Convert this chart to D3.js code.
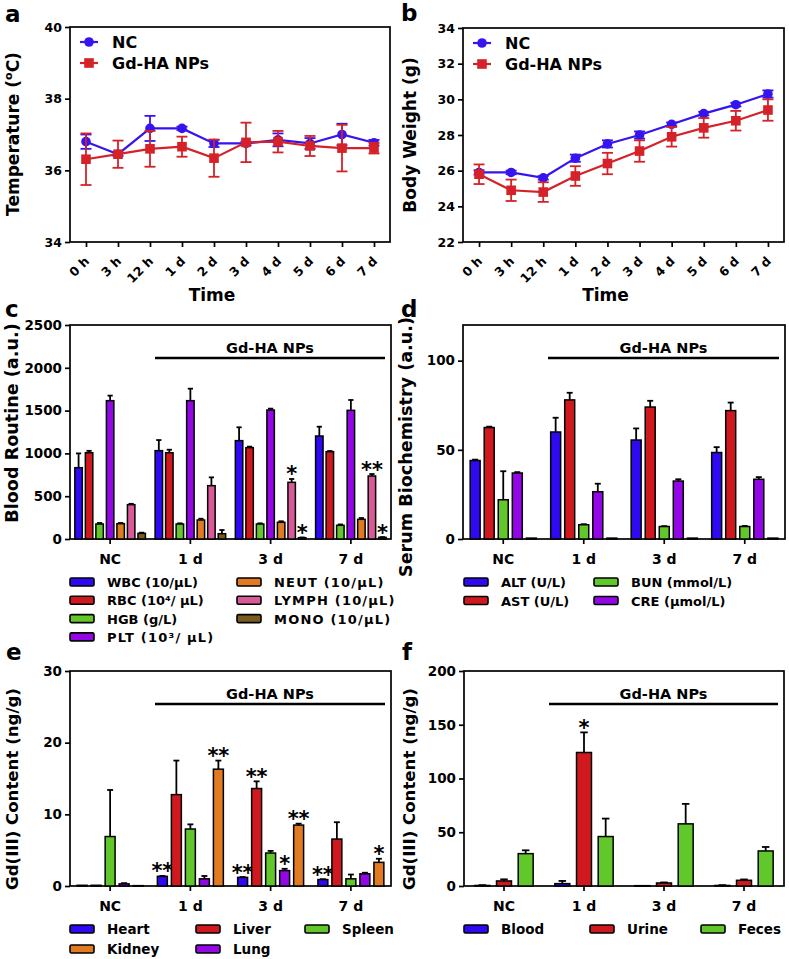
<!DOCTYPE html>
<html><head><meta charset="utf-8">
<script src="https://cdn.jsdelivr.net/npm/d3@7"></script>
<style>body{margin:0;background:#fff}svg{display:block}text{font-family:"DejaVu Sans",sans-serif;font-weight:bold}</style>
</head><body>
<svg id="c" width="789" height="959"></svg>
<script>
// ---------- DATA ----------
const timeLabels = ["0 h","3 h","12 h","1 d","2 d","3 d","4 d","5 d","6 d","7 d"];
const tempNC     = [36.80,36.45,37.17,37.17,36.75,36.75,36.85,36.75,37.00,36.77];
const tempNCErr  = [0.20,0.05,0.35,0.05,0.10,0.05,0.18,0.15,0.30,0.08];
const tempGd     = [36.31,36.45,36.60,36.66,36.34,36.78,36.80,36.68,36.62,36.62];
const tempGdErr  = [0.72,0.38,0.50,0.28,0.52,0.55,0.30,0.28,0.65,0.15];
const weightNC    = [25.9,25.9,25.6,26.7,27.5,28.0,28.6,29.2,29.7,30.3];
const weightNCErr = [0.12,0.10,0.10,0.20,0.20,0.20,0.10,0.10,0.10,0.20];
const weightGd    = [25.8,24.9,24.8,25.7,26.4,27.1,27.9,28.4,28.8,29.4];
const weightGdErr = [0.55,0.60,0.55,0.55,0.60,0.60,0.55,0.55,0.55,0.60];

const groups = ["NC","1 d","3 d","7 d"];

const bloodNames  = ["WBC","RBC","HGB","PLT","NEUT","LYMPH","MONO"];
const bloodLabels = ["WBC (10/μL)","RBC (10⁴/ μL)","HGB (g/L)","PLT (10³/ μL)","NEUT (10/μL)","LYMPH (10/μL)","MONO (10/μL)"];
const WBC   = [833,1032,1149,1203],  WBCErr   = [167,124,156,109];
const RBC   = [1008,1008,1067,1020], RBCErr   = [22,35,12,8];
const HGB   = [175,175,175,160],     HGBErr   = [12,8,8,10];
const PLT   = [1616,1616,1507,1503], PLTErr   = [59,140,16,121];
const NEUT  = [179,222,195,230],     NEUTErr  = [8,15,12,15];
const LYMPH = [401,623,662,736],     LYMPHErr = [10,97,39,23];
const MONO  = [66,62,15,19],         MONOErr  = [8,43,3,3];
const bloodStars = {LYMPH:["","","*","**"], MONO:["","","*","*"]};

const serumNames  = ["ALT","AST","BUN","CRE","other"];
const serumLabels = ["ALT (U/L)","AST (U/L)","BUN (mmol/L)","CRE (μmol/L)"];
const ALT = [44,60,55.5,48.5],   ALTErr = [0.5,8,6.5,3];
const AST = [62.5,78,74,72],     ASTErr = [0.5,4,3.5,4.5];
const BUN = [22,8,7,7],          BUNErr = [16,0.3,0.2,0.3];
const CRE = [37,26.5,32.5,33.5], CREErr = [0.5,4.5,1,1.2];
const OTH = [0.5,0.5,0.5,0.5],   OTHErr = [0,0,0,0];

const organNames = ["Heart","Liver","Spleen","Lung","Kidney"];
const Heart  = [0.1,1.35,1.2,0.9],    HeartErr  = [0,0.05,0.05,0.05];
const Liver  = [0.1,12.75,13.6,6.55], LiverErr  = [0,4.75,1.0,2.35];
const Spleen = [6.9,7.95,4.6,1.0],    SpleenErr = [6.5,0.65,0.3,0.6];
const Lung   = [0.3,1.0,2.15,1.7],    LungErr   = [0.1,0.4,0.25,0.15];
const Kidney = [0.05,16.3,8.5,3.3],   KidneyErr = [0,1.2,0.2,0.5];
const organStars = {Heart:["","**","**","**"], Liver:["","","**",""], Lung:["","","*",""], Kidney:["","**","**","*"]};

const excNames = ["Blood","Urine","Feces"];
const Blood = [0.5,2.2,0.3,0.5],      BloodErr = [0.3,2.5,0,0.3];
const Urine = [4.7,124.2,2.8,5.3],    UrineErr = [1.5,18.7,0.5,0.8];
const Feces = [30.1,46,57.8,32.6],    FecesErr = [3.1,16.7,18.6,3.7];
const excStars = {Urine:["","*","",""]};

// ---------- STYLE ----------
const col = {blue:"#2d0af2", red:"#d0191e", green:"#62c72a", purple:"#9306e6",
             orange:"#e07b22", pink:"#d95a98", brown:"#7b5a1f", dark:"#3a2a10"};
const lineBlue = "#3614f0", lineRed = "#d42228";

const svg = d3.select("#c");
svg.append("rect").attr("width",789).attr("height",959).attr("fill","#fff");

function frame(p){
  svg.append("rect").attr("x",p.x0).attr("y",p.y0).attr("width",p.x1-p.x0).attr("height",p.y1-p.y0)
    .attr("fill","none").attr("stroke","#000").attr("stroke-width",1.7);
}
function yAxis(p, y, ticks, fs){
  const g = svg.append("g").attr("transform",`translate(${p.x0},0)`)
    .call(d3.axisLeft(y).tickValues(ticks).tickSize(5).tickSizeOuter(0).tickPadding(3).tickFormat(d=>String(d)));
  g.select(".domain").remove();
  g.selectAll("line").attr("stroke-width",1.7);
  g.selectAll("text").attr("font-size",fs).attr("font-family","DejaVu Sans").attr("font-weight","bold");
}
function yTitle(x, cy, txt, fs){
  return svg.append("text").attr("transform",`translate(${x},${cy}) rotate(-90)`)
    .attr("text-anchor","middle").attr("font-size",fs).text(txt);
}
function letter(x,y,t){ svg.append("text").attr("x",x).attr("y",y).attr("font-size",23).text(t); }

// ---------- LINE PANELS ----------
function linePanel(p, dom, ticks, seriesList, title, titleX, titleCY, let, letX, letY){
  frame(p);
  const x = d3.scalePoint().domain(timeLabels).range([p.x0,p.x1]).padding(0.5);
  const y = d3.scaleLinear().domain(dom).range([p.y1,p.y0]);
  yAxis(p,y,ticks,12.5);
  const xa = svg.append("g").attr("transform",`translate(0,${p.y1})`)
    .call(d3.axisBottom(x).tickSize(5).tickSizeOuter(0).tickFormat(""));
  xa.select(".domain").remove(); xa.selectAll("line").attr("stroke-width",1.7);
  svg.selectAll(null).data(timeLabels).join("text")
    .attr("transform",d=>`translate(${x(d)+4},${p.y1+20}) rotate(-45)`)
    .attr("text-anchor","end").attr("font-size",12.5).text(d=>d);
  svg.append("text").attr("x",(p.x0+p.x1)/2-18).attr("y",p.y1+59).attr("text-anchor","middle").attr("font-size",17).text("Time");
  yTitle(titleX,titleCY,"",17).call(t=>{ title(t); });
  letter(letX,letY,let);
  seriesList.forEach(s=>{
    const pts = timeLabels.map((l,i)=>({l,v:s.v[i],e:s.e[i]}));
    const eb = svg.append("g").attr("stroke",s.c).attr("stroke-width",1.8);
    pts.forEach(d=>{
      const cx=x(d.l), t=y(d.v+d.e), b=y(d.v-d.e);
      eb.append("line").attr("x1",cx).attr("x2",cx).attr("y1",t).attr("y2",b);
      eb.append("line").attr("x1",cx-5.5).attr("x2",cx+5.5).attr("y1",t).attr("y2",t);
      eb.append("line").attr("x1",cx-5.5).attr("x2",cx+5.5).attr("y1",b).attr("y2",b);
    });
    svg.append("path").datum(pts).attr("fill","none").attr("stroke",s.c).attr("stroke-width",2.2)
      .attr("d",d3.line().x(d=>x(d.l)).y(d=>y(d.v)));
    pts.forEach(d=>marker(x(d.l),y(d.v),s));
  });
  // legend
  seriesList.forEach((s,i)=>{
    const ly = p.y0+15+i*21, lx = p.x0+10;
    svg.append("line").attr("x1",lx).attr("x2",lx+18).attr("y1",ly).attr("y2",ly).attr("stroke",s.c).attr("stroke-width",2.2);
    marker(lx+9,ly,s);
    svg.append("text").attr("x",lx+32).attr("y",ly+6).attr("font-size",16).text(s.name);
  });
}
function marker(cx,cy,s){
  if(s.shape==="circle") svg.append("circle").attr("cx",cx).attr("cy",cy).attr("r",4.8).attr("fill",s.c);
  else svg.append("rect").attr("x",cx-4.8).attr("y",cy-4.8).attr("width",9.6).attr("height",9.6).attr("fill",s.c);
}

linePanel({x0:70,x1:390,y0:27,y1:242},[34,40],[34,36,38,40],
  [{name:"NC",v:tempNC,e:tempNCErr,c:lineBlue,shape:"circle"},{name:"Gd-HA NPs",v:tempGd,e:tempGdErr,c:lineRed,shape:"square"}],
  t=>{ t.append("tspan").text("Temperature (");
       t.append("tspan").attr("font-size",11).attr("dy",-7).text("o");
       t.append("tspan").attr("dy",7).text("C)"); }, 19, 134, "a", 5, 22);
linePanel({x0:463,x1:784,y0:28,y1:242},[22,34],[22,24,26,28,30,32,34],
  [{name:"NC",v:weightNC,e:weightNCErr,c:lineBlue,shape:"circle"},{name:"Gd-HA NPs",v:weightGd,e:weightGdErr,c:lineRed,shape:"square"}],
  t=>{ t.text("Body Weight (g)"); }, 416, 135, "b", 401, 21);

// ---------- BAR PANELS ----------
function barPanel(p, dom, ticks, series, title, titleX, titleCY, titleFs, let, letX, letY, pin, pout, capFrac){
  frame(p);
  const y = d3.scaleLinear().domain(dom).range([p.y1,p.y0]);
  const x = d3.scaleBand().domain(groups).range([p.x0,p.x1]).padding(0);
  const xi = d3.scaleBand().domain(series.map(s=>s.name)).range([0,x.bandwidth()]).paddingInner(pin).paddingOuter(pout);
  yAxis(p,y,ticks,13.5);
  const xa = svg.append("g").attr("transform",`translate(0,${p.y1})`)
    .call(d3.axisBottom(x).tickSize(5).tickSizeOuter(0).tickPadding(10));
  xa.select(".domain").remove(); xa.selectAll("line").attr("stroke-width",1.7);
  xa.selectAll("text").attr("font-size",14).attr("font-family","DejaVu Sans").attr("font-weight","bold").attr("fill","#000");
  yTitle(titleX,titleCY,title,titleFs);
  letter(letX,letY,let);
  // Gd-HA NPs bracket
  svg.append("line").attr("x1",p.x0+85).attr("x2",p.x1-6).attr("y1",p.y0+33).attr("y2",p.y0+33).attr("stroke","#000").attr("stroke-width",2.4);
  svg.append("text").attr("x",(p.x0+85+p.x1-6)/2).attr("y",p.y0+28).attr("text-anchor","middle").attr("font-size",14.5).text("Gd-HA NPs");
  const bw = xi.bandwidth();
  series.forEach(s=>{
    groups.forEach((gname,i)=>{
      const bx = x(gname)+xi(s.name), v=s.v[i], e=s.e[i];
      const cx = bx+bw/2;
      if(e>0){
        svg.append("line").attr("x1",cx).attr("x2",cx).attr("y1",y(v)).attr("y2",y(v+e)).attr("stroke","#000").attr("stroke-width",1.8);
        svg.append("line").attr("x1",cx-bw*capFrac).attr("x2",cx+bw*capFrac).attr("y1",y(v+e)).attr("y2",y(v+e)).attr("stroke","#000").attr("stroke-width",1.8);
      }
      svg.append("rect").attr("x",bx).attr("y",y(v)).attr("width",bw).attr("height",Math.max(p.y1-y(v),0.5))
        .attr("fill",s.c).attr("stroke","#000").attr("stroke-width",1.5);
      if(s.stars && s.stars[i]){
        svg.append("text").attr("x",cx).attr("y",y(v+e)+2.5).attr("text-anchor","middle")
          .attr("font-size",21).attr("font-weight","normal").text(s.stars[i]);
      }
    });
  });
}
function legend(items, x0, y0, colW, rowH, ncols, fs, swW){
  items.forEach((it,i)=>{
    const c = i % ncols, r = Math.floor(i/ncols);
    const lx = x0 + (Array.isArray(colW)? colW[c] : c*colW), ly = y0 + r*rowH;
    svg.append("rect").attr("x",lx).attr("y",ly-4).attr("width",swW).attr("height",8).attr("rx",1.5)
      .attr("fill",it.c).attr("stroke","#000").attr("stroke-width",1.6);
    svg.append("text").attr("x",lx+37).attr("y",ly+5).attr("font-size",fs)
      .attr("letter-spacing",it.ls||0).text(it.label);
  });
}

// c
const bloodSeries = [
  {name:"WBC",v:WBC,e:WBCErr,c:col.blue},{name:"RBC",v:RBC,e:RBCErr,c:col.red},
  {name:"HGB",v:HGB,e:HGBErr,c:col.green},{name:"PLT",v:PLT,e:PLTErr,c:col.purple},
  {name:"NEUT",v:NEUT,e:NEUTErr,c:col.orange},{name:"LYMPH",v:LYMPH,e:LYMPHErr,c:col.pink,stars:bloodStars.LYMPH},
  {name:"MONO",v:MONO,e:MONOErr,c:col.brown,stars:bloodStars.MONO}];
barPanel({x0:70,x1:391,y0:325,y1:539},[0,2500],[0,500,1000,1500,2000,2500],bloodSeries,
  "Blood Routine (a.u.)",18,423,17.6,"c",5,317,0.29,0.46,0.35);
legend([
  {label:bloodLabels[0],c:col.blue},{label:bloodLabels[4],c:col.orange,ls:1.2},
  {label:bloodLabels[1],c:col.red},{label:bloodLabels[5],c:col.pink,ls:1.2},
  {label:bloodLabels[2],c:col.green},{label:bloodLabels[6],c:col.brown,ls:1.2},
  {label:bloodLabels[3],c:col.purple,ls:1.2}], 70, 582, [0,167], 18.3, 2, 13, 24);

// d
const serumSeries = [
  {name:"ALT",v:ALT,e:ALTErr,c:col.blue},{name:"AST",v:AST,e:ASTErr,c:col.red},
  {name:"BUN",v:BUN,e:BUNErr,c:col.green},{name:"CRE",v:CRE,e:CREErr,c:col.purple},
  {name:"other",v:OTH,e:OTHErr,c:col.dark}];
barPanel({x0:463,x1:785,y0:325,y1:539},[0,120],[0,50,100],serumSeries,
  "Serum Biochemistry (a.u.)",412,447,17.6,"d",401,317,0.29,0.51,0.3);
legend([
  {label:serumLabels[0],c:col.blue},{label:serumLabels[2],c:col.green},
  {label:serumLabels[1],c:col.red},{label:serumLabels[3],c:col.purple}], 464, 582, [0,130], 18.5, 2, 13, 24);

// e
const organSeries = [
  {name:"Heart",v:Heart,e:HeartErr,c:col.blue,stars:organStars.Heart},
  {name:"Liver",v:Liver,e:LiverErr,c:col.red,stars:organStars.Liver},
  {name:"Spleen",v:Spleen,e:SpleenErr,c:col.green},
  {name:"Lung",v:Lung,e:LungErr,c:col.purple,stars:organStars.Lung},
  {name:"Kidney",v:Kidney,e:KidneyErr,c:col.orange,stars:organStars.Kidney}];
barPanel({x0:70,x1:391,y0:671,y1:886},[0,30],[0,10,20,30],organSeries,
  "Gd(III) Content (ng/g)",18,789,16.6,"e",6,660,0.29,0.51,0.3);
legend([
  {label:"Heart",c:col.blue},{label:"Liver",c:col.red},{label:"Spleen",c:col.green},
  {label:"Kidney",c:col.orange},{label:"Lung",c:col.purple}], 70, 929, [0,126,235], 20, 3, 13.5, 24);

// f
const excSeries = [
  {name:"Blood",v:Blood,e:BloodErr,c:col.blue},
  {name:"Urine",v:Urine,e:UrineErr,c:col.red,stars:excStars.Urine},
  {name:"Feces",v:Feces,e:FecesErr,c:col.green}];
barPanel({x0:464,x1:784,y0:671,y1:886},[0,200],[0,50,100,150,200],excSeries,
  "Gd(III) Content (ng/g)",415,789,16.6,"f",402,660,0.31,0.5,0.25);
legend([
  {label:"Blood",c:col.blue},{label:"Urine",c:col.red},{label:"Feces",c:col.green}],
  464, 929, [0,126,237], 20, 3, 13.5, 24);
</script>
</body></html>
